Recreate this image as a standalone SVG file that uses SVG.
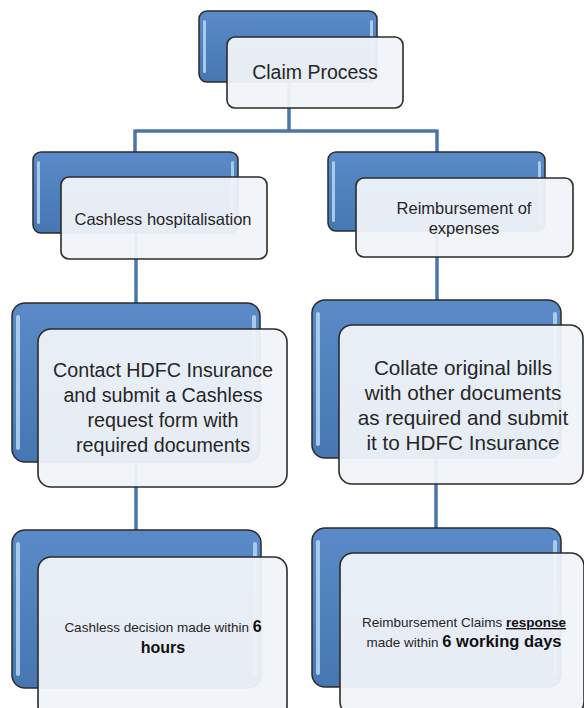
<svg xmlns="http://www.w3.org/2000/svg" width="584" height="708" viewBox="0 0 584 708">
<defs>
<linearGradient id="blueG" x1="0" y1="0" x2="0" y2="1">
<stop offset="0" stop-color="#5a8bc8"/>
<stop offset="0.5" stop-color="#4f81bd"/>
<stop offset="1" stop-color="#4677b3"/>
</linearGradient>
<style>
.blue{fill:url(#blueG);stroke:#2b2b2b;stroke-width:1.5}
.hl{fill:#b9d6f2;opacity:0.85}
.card{fill:#f0f3f8;fill-opacity:0.95;stroke:#2b2b2b;stroke-width:1.6}
.conn{fill:none;stroke:#4a76ad;stroke-width:3.5}
text{font-family:"Liberation Sans",Arial,sans-serif;fill:#262626;text-anchor:middle}
.b{font-weight:bold;fill:#111}
</style>
</defs>
<rect width="584" height="708" fill="#ffffff"/>
<g id="connectors">
<path class="conn" d="M289,82 V131 M135,131 H437 M135,129.5 V152 M437,129.5 V152"/>
<path class="conn" d="M136,233 V303 M437,231 V300"/>
<path class="conn" d="M136,462 V530 M436,458 V528"/>
</g>
<g id="claim-process">
<rect class="blue" x="199" y="11" width="178" height="71" rx="8"/>
<rect class="hl" x="203" y="20" width="3" height="53" rx="1.5"/>
<rect class="hl" x="370" y="20" width="3" height="53" rx="1.5"/>
<rect class="card" x="227" y="37" width="176" height="71" rx="8"/>
<text x="315" y="79" font-size="19.5">Claim Process</text>
</g>
<g id="cashless-hospitalisation">
<rect class="blue" x="33" y="152" width="205" height="81" rx="8"/>
<rect class="hl" x="37" y="161" width="3" height="63" rx="1.5"/>
<rect class="hl" x="231" y="161" width="3" height="63" rx="1.5"/>
<rect class="card" x="61" y="177" width="206" height="82" rx="8"/>
<text x="163" y="225" font-size="16.5">Cashless hospitalisation</text>
</g>
<g id="reimbursement-of-expenses">
<rect class="blue" x="328" y="152" width="217" height="79" rx="8"/>
<rect class="hl" x="332" y="161" width="3" height="61" rx="1.5"/>
<rect class="hl" x="538" y="161" width="3" height="61" rx="1.5"/>
<rect class="card" x="356" y="178" width="217" height="79" rx="8"/>
<text x="464" y="214" font-size="16.5">Reimbursement of</text>
<text x="464" y="234" font-size="16.5">expenses</text>
</g>
<g id="contact-hdfc">
<rect class="blue" x="12" y="303" width="248" height="159" rx="13"/>
<rect class="hl" x="16" y="315" width="4" height="135" rx="2"/>
<rect class="hl" x="252" y="315" width="4" height="135" rx="2"/>
<rect class="card" x="38" y="329" width="249" height="158" rx="13"/>
<text x="163" y="377" font-size="19.7">Contact HDFC Insurance</text>
<text x="163" y="402" font-size="19.7">and submit a Cashless</text>
<text x="163" y="427" font-size="19.7">request form with</text>
<text x="163" y="452" font-size="19.7">required documents</text>
</g>
<g id="collate-bills">
<rect class="blue" x="312" y="300" width="249" height="158" rx="13"/>
<rect class="hl" x="316" y="312" width="4" height="134" rx="2"/>
<rect class="hl" x="553" y="312" width="4" height="134" rx="2"/>
<rect class="card" x="339" y="325" width="244" height="159" rx="13"/>
<text x="463" y="375" font-size="20.7">Collate original bills</text>
<text x="463" y="400" font-size="20.7">with other documents</text>
<text x="463" y="425" font-size="20.7">as required and submit</text>
<text x="463" y="450" font-size="20.7">it to HDFC Insurance</text>
</g>
<g id="cashless-decision">
<rect class="blue" x="12" y="530" width="249" height="158" rx="13"/>
<rect class="hl" x="16" y="542" width="4" height="134" rx="2"/>
<rect class="hl" x="253" y="542" width="4" height="134" rx="2"/>
<rect class="card" x="38" y="557" width="249" height="162" rx="13"/>
<text x="163" y="632" font-size="13.5">Cashless decision made within <tspan class="b" font-size="16">6</tspan></text>
<text x="163" y="653" font-size="16" class="b">hours</text>
</g>
<g id="reimbursement-response">
<rect class="blue" x="312" y="528" width="249" height="159" rx="13"/>
<rect class="hl" x="316" y="540" width="4" height="135" rx="2"/>
<rect class="hl" x="553" y="540" width="4" height="135" rx="2"/>
<rect class="card" x="340" y="553" width="244" height="162" rx="13"/>
<text x="464" y="627" font-size="13.5">Reimbursement Claims <tspan class="b" text-decoration="underline">response</tspan></text>
<text x="464" y="647" font-size="13.5">made within <tspan class="b" font-size="16.5">6 working days</tspan></text>
</g>
</svg>
